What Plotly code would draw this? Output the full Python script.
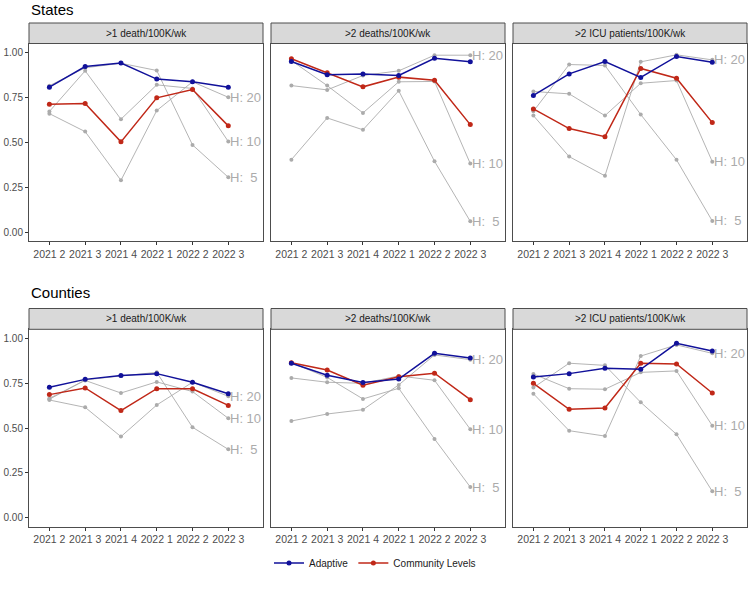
import plotly.graph_objects as go

# Rótulos do eixo x (trimestres)
trimestres = ['2021 2', '2021 3', '2021 4', '2022 1', '2022 2', '2022 3']
paineis = ['>1 death/100K/wk', '>2 deaths/100K/wk', '>2 ICU patients/100K/wk']
rotulos_h = ['H: \u00a05', 'H: 10', 'H: 20']

# -- States --
st_morte1_adaptive = [0.807, 0.922, 0.941, 0.852, 0.837, 0.807]
st_morte1_community = [0.712, 0.716, 0.503, 0.748, 0.794, 0.592]
st_morte1_h5 = [0.815, 0.915, 0.940, 0.900, 0.486, 0.306]
st_morte1_h10 = [0.672, 0.898, 0.629, 0.820, 0.800, 0.505]
st_morte1_h20 = [0.660, 0.560, 0.289, 0.677, 0.837, 0.751]

st_morte2_adaptive = [0.950, 0.876, 0.881, 0.872, 0.968, 0.948]
st_morte2_community = [0.965, 0.887, 0.809, 0.863, 0.846, 0.599]
st_morte2_h5 = [0.404, 0.636, 0.570, 0.787, 0.395, 0.061]
st_morte2_h10 = [0.955, 0.816, 0.664, 0.837, 0.839, 0.382]
st_morte2_h20 = [0.816, 0.792, 0.872, 0.898, 0.985, 0.985]

st_uti_adaptive = [0.761, 0.881, 0.950, 0.861, 0.978, 0.946]
st_uti_community = [0.686, 0.577, 0.532, 0.911, 0.857, 0.610]
st_uti_h5 = [0.673, 0.933, 0.928, 0.655, 0.403, 0.063]
st_uti_h10 = [0.783, 0.770, 0.649, 0.829, 0.844, 0.393]
st_uti_h20 = [0.649, 0.421, 0.314, 0.948, 0.987, 0.959]

# -- Counties --
ct_morte1_adaptive = [0.727, 0.771, 0.792, 0.803, 0.755, 0.691]
ct_morte1_community = [0.686, 0.723, 0.597, 0.719, 0.719, 0.626]
ct_morte1_h5 = [0.660, 0.768, 0.790, 0.810, 0.504, 0.381]
ct_morte1_h10 = [0.665, 0.765, 0.695, 0.757, 0.703, 0.554]
ct_morte1_h20 = [0.656, 0.615, 0.452, 0.628, 0.755, 0.677]

ct_morte2_adaptive = [0.861, 0.794, 0.753, 0.773, 0.916, 0.890]
ct_morte2_community = [0.864, 0.823, 0.738, 0.786, 0.805, 0.658]
ct_morte2_h5 = [0.864, 0.782, 0.662, 0.721, 0.439, 0.171]
ct_morte2_h10 = [0.779, 0.755, 0.749, 0.790, 0.766, 0.493]
ct_morte2_h20 = [0.539, 0.578, 0.602, 0.740, 0.907, 0.881]

ct_uti_adaptive = [0.784, 0.803, 0.833, 0.827, 0.972, 0.929]
ct_uti_community = [0.749, 0.604, 0.612, 0.861, 0.857, 0.695]
ct_uti_h5 = [0.725, 0.861, 0.849, 0.643, 0.465, 0.147]
ct_uti_h10 = [0.801, 0.719, 0.716, 0.810, 0.818, 0.513]
ct_uti_h20 = [0.691, 0.485, 0.455, 0.901, 0.963, 0.916]

facetas = [
    (st_morte1_adaptive, st_morte1_community, [st_morte1_h5, st_morte1_h10, st_morte1_h20]),
    (st_morte2_adaptive, st_morte2_community, [st_morte2_h5, st_morte2_h10, st_morte2_h20]),
    (st_uti_adaptive, st_uti_community, [st_uti_h5, st_uti_h10, st_uti_h20]),
    (ct_morte1_adaptive, ct_morte1_community, [ct_morte1_h5, ct_morte1_h10, ct_morte1_h20]),
    (ct_morte2_adaptive, ct_morte2_community, [ct_morte2_h5, ct_morte2_h10, ct_morte2_h20]),
    (ct_uti_adaptive, ct_uti_community, [ct_uti_h5, ct_uti_h10, ct_uti_h20]),
]

AZUL = '#11119a'
VERMELHO = '#c02818'
CINZA = '#ababab'
FONTE = 'Liberation Sans, Arial, sans-serif'

W, H = 750, 590
ML, MR = 29, 3
LARG = W - ML - MR


def px_x(p):
    return (p - ML) / LARG


def px_y(p):
    return 1 - p / H


dom_x = [(29, 263), (271, 505), (513, 747)]
dom_y = [(43.5, 241.3), (329.3, 526.7)]
faixa_y = [(23, 43.5), (308.5, 329.3)]

fig = go.Figure()
x_num = list(range(1, 7))
anotacoes = []

for i, (adapt, comm, hs) in enumerate(facetas):
    n = i + 1
    xa = 'x' if n == 1 else f'x{n}'
    ya = 'y' if n == 1 else f'y{n}'
    for serie, rot in zip(hs, rotulos_h):
        fig.add_trace(go.Scatter(
            x=x_num, y=serie, xaxis=xa, yaxis=ya,
            mode='lines+markers',
            line=dict(color=CINZA, width=0.9),
            marker=dict(color=CINZA, size=4),
            showlegend=False, hoverinfo='skip'
        ))
        # Rótulo H no último ponto
        anotacoes.append(dict(
            xref=xa, yref=ya, x=x_num[-1], y=serie[-1], text=rot,
            showarrow=False, xanchor='left', yanchor='middle', xshift=0,
            font=dict(color=CINZA, size=13, family=FONTE)
        ))
    fig.add_trace(go.Scatter(
        x=x_num, y=comm, xaxis=xa, yaxis=ya, mode='lines+markers',
        line=dict(color=VERMELHO, width=1.5), marker=dict(color=VERMELHO, size=5),
        name='Community Levels', legendgroup='c', showlegend=(n == 1)
    ))
    fig.add_trace(go.Scatter(
        x=x_num, y=adapt, xaxis=xa, yaxis=ya, mode='lines+markers',
        line=dict(color=AZUL, width=1.5), marker=dict(color=AZUL, size=5),
        name='Adaptive', legendgroup='a', showlegend=(n == 1)
    ))

layout = dict(
    width=W, height=H,
    margin=dict(l=ML, r=MR, t=0, b=0, autoexpand=False),
    paper_bgcolor='white', plot_bgcolor='white',
    font=dict(family=FONTE, size=10, color='#4d4d4d'),
    legend=dict(orientation='h', x=px_x(375), xanchor='center', y=px_y(563), yanchor='middle',
                font=dict(size=10, color='#1a1a1a'), traceorder='reversed',
                itemwidth=30, tracegroupgap=0),
    shapes=[], annotations=anotacoes
)

for i in range(6):
    n = i + 1
    lin, col = divmod(i, 3)
    sx = '' if n == 1 else str(n)
    x0, x1 = dom_x[col]
    y0, y1 = dom_y[lin]
    layout[f'xaxis{sx}'] = dict(
        domain=[px_x(x0), px_x(x1)], anchor=f'y{sx}', range=[0.43, 6.97],
        tickvals=x_num, ticktext=trimestres, ticks='outside', ticklen=3,
        tickcolor='#333333', showgrid=False, zeroline=False, automargin=False,
        showline=True, mirror=True, linecolor='#4d4d4d', linewidth=1,
        tickfont=dict(size=10.5, color='#4d4d4d')
    )
    layout[f'yaxis{sx}'] = dict(
        domain=[px_y(y1), px_y(y0)], anchor=f'x{sx}', range=[-0.05, 1.05],
        tickvals=[0, 0.25, 0.5, 0.75, 1.0],
        ticktext=['0.00', '0.25', '0.50', '0.75', '1.00'],
        ticks='outside' if col == 0 else '', ticklen=3, tickcolor='#333333',
        showticklabels=(col == 0), showgrid=False, zeroline=False, automargin=False,
        showline=True, mirror=True, linecolor='#4d4d4d', linewidth=1,
        tickfont=dict(size=10, color='#4d4d4d')
    )
    # Faixa do título do painel (strip)
    fy0, fy1 = faixa_y[lin]
    layout['shapes'].append(dict(
        type='rect', xref='paper', yref='paper',
        x0=px_x(x0), x1=px_x(x1), y0=px_y(fy1), y1=px_y(fy0),
        fillcolor='#d9d9d9', line=dict(color='#4d4d4d', width=1)
    ))
    layout['annotations'].append(dict(
        xref='paper', yref='paper', x=px_x((x0 + x1) / 2), y=px_y((fy0 + fy1) / 2),
        text=paineis[col], showarrow=False, xanchor='center', yanchor='middle',
        font=dict(size=10, color='#1a1a1a')
    ))

# Títulos das linhas
layout['annotations'].append(dict(
    xref='paper', yref='paper', x=0, y=px_y(10), text='States', showarrow=False,
    xanchor='left', yanchor='middle', font=dict(size=15, color='black')
))
layout['annotations'].append(dict(
    xref='paper', yref='paper', x=0, y=px_y(292), text='Counties', showarrow=False,
    xanchor='left', yanchor='middle', font=dict(size=15, color='black')
))

fig.update_layout(**layout)
# Tira a margem padrão do body para a figura começar no canto; sem barra de ferramentas
fig.write_html('out.html', config={'displayModeBar': False},
               post_script="document.body.style.margin='0';")
